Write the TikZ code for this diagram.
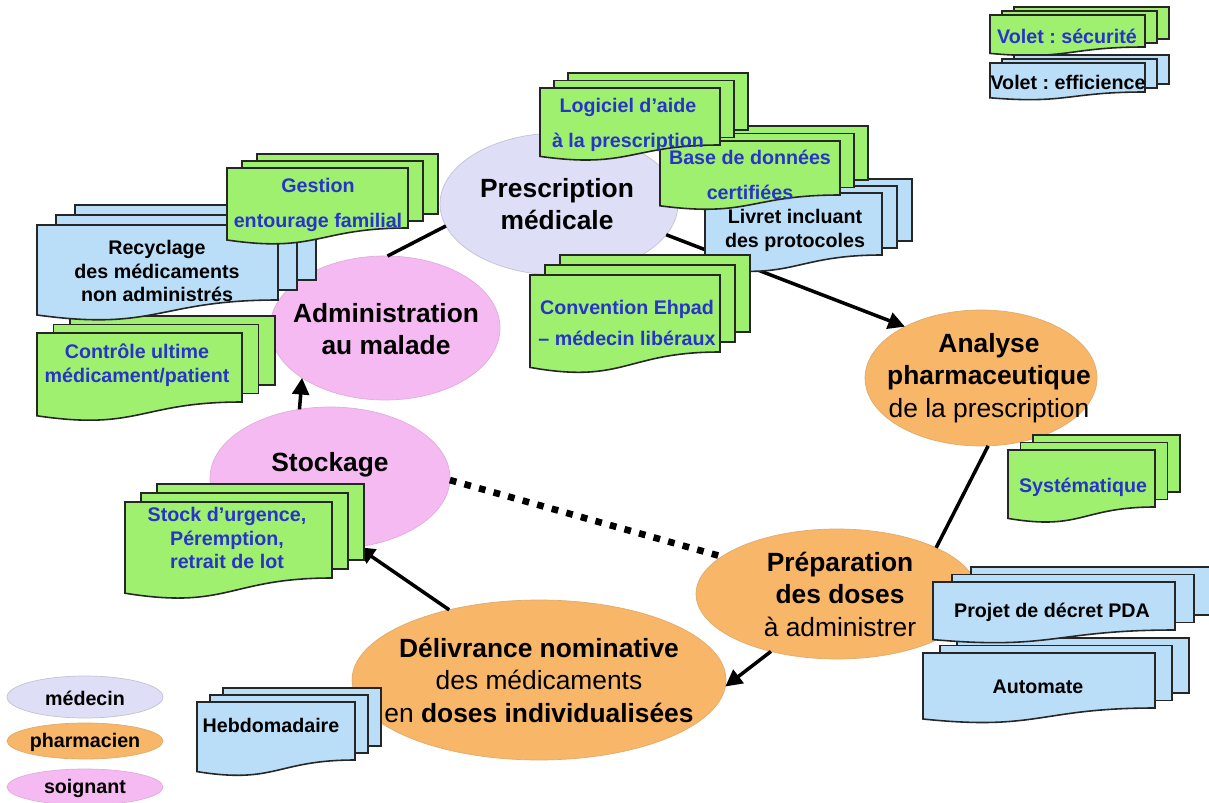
\documentclass[tikz,border=0pt]{standalone}
\usepackage{fontspec}
\setmainfont{Liberation Sans}
\frenchspacing
\usetikzlibrary{shapes.geometric, arrows.meta}
\definecolor{cmed}{RGB}{222,222,247}
\definecolor{csoin}{RGB}{246,186,242}
\definecolor{cpharm}{RGB}{248,182,104}
\definecolor{cgreen}{RGB}{160,240,112}
\definecolor{cblue}{RGB}{186,222,247}
\definecolor{txtblue}{RGB}{38,52,200}
\tikzset{
  docline/.style={draw=black!85, line width=0.9pt, line join=miter},
  bigtxt/.style={font=\fontsize{15}{18.5}\selectfont\bfseries, align=center, inner sep=0pt},
  smtxt/.style={font=\fontsize{11.2}{13.6}\selectfont\bfseries, align=center, inner sep=0pt},
  widetxt/.style={font=\fontsize{11.2}{19.8}\selectfont\bfseries, align=center, inner sep=0pt},
  gtxt/.style={text=txtblue},
  role/.style={ellipse, inner sep=0pt, outer sep=0pt, line width=0.4pt},
  conn/.style={line width=2pt, black},
  arr/.style={conn, -{Triangle[length=9.5pt,width=9.5pt]}},
  dots/.style={line width=3.8pt, black, dash pattern=on 3.8pt off 4.8pt},
}
% front sheet: #1 left, #2 top, #3 right, #4 right-bottom; #5 dx, #6 dy; #7 fill
\newcommand{\mdocshape}[7]{%
  \pgfmathsetmacro{\mdyl}{#2+1.2*(#4-#2)}%
  \pgfmathsetmacro{\mdyc}{#2+1.42*(#4-#2)}%
  \pgfmathsetmacro{\mdxm}{(#1+#3)/2}%
  \draw[docline, fill=#7] (#1+2*#5, #2-2*#6) rectangle (#3+2*#5, #4-2*#6);
  \draw[docline, fill=#7] (#1+#5, #2-#6) rectangle (#3+#5, #4-#6);
  \draw[docline, fill=#7] (#1,#2) -- (#3,#2) -- (#3,#4)
     .. controls (\mdxm,#4) and (\mdxm,\mdyc) .. (#1,\mdyl) -- cycle;
}
\begin{document}
\begin{tikzpicture}[x=0.02cm, y=-0.02cm]
\clip (0,0) rectangle (1209,803);
\fill[white] (0,0) rectangle (1209,803);

% ellipses
\node[role, fill=cmed, draw=cmed!70!gray, minimum width=4.76cm, minimum height=2.84cm] (presc) at (559,204) {};
\node[role, fill=csoin, draw=csoin!80!gray, minimum width=4.6cm, minimum height=2.88cm] (admin) at (385,328) {};
\node[role, fill=csoin, draw=csoin!80!gray, minimum width=4.8cm, minimum height=2.84cm] (stock) at (330,478) {};
\node[role, fill=cpharm, draw=cpharm!80!gray, minimum width=4.64cm, minimum height=2.72cm] (analyse) at (981,378) {};
\node[role, fill=cpharm, draw=cpharm!80!gray, minimum width=5.64cm, minimum height=2.6cm] (prep) at (837,594) {};
\node[role, fill=cpharm, draw=cpharm!80!gray, minimum width=7.48cm, minimum height=3.2cm] (deliv) at (539,680) {};

% legend
\node[role, fill=cmed, draw=cmed!70!gray, minimum width=3.12cm, minimum height=0.84cm] (legmed) at (85,697) {};
\node[role, fill=cpharm, draw=cpharm!80!gray, minimum width=3.12cm, minimum height=0.72cm] (legpha) at (85,741) {};
\node[role, fill=csoin, draw=csoin!80!gray, minimum width=3.12cm, minimum height=0.72cm] (legsoi) at (85,787) {};
\node[smtxt] (legmedT) at (85,698) {médecin};
\node[smtxt] (legphaT) at (85,742) {pharmacien};
\node[smtxt] (legsoiT) at (85,788) {soignant};

% connectors
\draw[arr] (presc.344.1) -- (analyse.146.8);
\draw[conn] (presc.191.9) -- (admin.88);
\draw[conn] (analyse.276) -- (prep.25.4);
\draw[arr] (prep.221) -- (deliv.358.5);
\draw[arr] (deliv.142.9) -- (stock.292.6);
\draw[arr] (stock.114.6) -- (admin.211.4);
\draw[dots] (stock.359) -- (prep.162.7);

% ellipse texts
\node[bigtxt] (prescT) at (557,204) {Prescription\\médicale};
\node[bigtxt] (adminT) at (386,329) {Administration\\au malade};
\node[bigtxt] (stockT) at (330,465) {Stockage};
\node[bigtxt] (analyseT) at (989,378) {Analyse\\pharmaceutique\\{\mdseries de la prescription}};
\node[bigtxt] (prepT) at (840,594) {Préparation\\des doses\\{\mdseries à administrer}};
\node[bigtxt] (delivT) at (539,680) {Délivrance nominative\\{\mdseries des médicaments}\\{\mdseries en }doses individualisées};

% documents
\mdocshape{990}{15}{1145}{47}{12}{4}{cgreen}
\node[smtxt, gtxt] (secT) at (1067,36) {Volet : sécurité};
\mdocshape{990}{63}{1145}{92}{12}{4}{cblue}
\node[smtxt] (effT) at (1068,82) {Volet : efficience};

\mdocshape{705}{193}{882}{255}{15}{7}{cblue}
\node[smtxt] (livretT) at (795,230) {Livret incluant\\des protocoles};
\mdocshape{660}{141}{840}{195}{14}{7.5}{cgreen}
\node[widetxt, gtxt] (baseT) at (750,175) {Base de données\\certifiées};
\mdocshape{540}{88}{720}{145}{14}{7.5}{cgreen}
\node[widetxt, gtxt] (logT) at (628,125) {Logiciel d’aide\\à la prescription};
\mdocshape{530}{275}{720}{352}{15}{10}{cgreen}
\node[smtxt, gtxt, font=\fontsize{11.2}{17.6}\selectfont\bfseries] (convT) at (627,323) {Convention Ehpad\\– médecin libéraux};

\mdocshape{37}{333}{242}{402}{16.5}{8.5}{cgreen}
\node[smtxt, gtxt] (ctrlT) at (137,365) {Contrôle ultime\\médicament/patient};
\mdocshape{37}{225}{278}{300}{19}{10}{cblue}
\node[smtxt, font=\fontsize{11.2}{13.2}\selectfont\bfseries] (recyT) at (157,271) {Recyclage\\des médicaments\\non administrés};
\mdocshape{227}{168}{408}{228}{15}{7}{cgreen}
\node[widetxt, gtxt] (gestT) at (318,205) {Gestion\\entourage familial};

\mdocshape{125}{502}{332}{578}{16}{9}{cgreen}
\node[smtxt, gtxt] (stockboxT) at (227,538) {Stock d’urgence,\\Péremption,\\retrait de lot};
\mdocshape{1008}{450}{1155}{507}{12.5}{7.5}{cgreen}
\node[smtxt, gtxt] (systT) at (1083,487) {Systématique};
\mdocshape{923}{653}{1155}{708}{17}{7.5}{cblue}
\node[smtxt] (autoT) at (1038,687) {Automate};
\mdocshape{933}{582}{1175}{630}{19}{7.5}{cblue}
\node[smtxt] (projT) at (1052,612) {Projet de décret PDA};
\mdocshape{197}{702}{355}{760}{13}{7}{cblue}
\node[smtxt] (hebdoT) at (271,725) {Hebdomadaire};
\end{tikzpicture}
\end{document}
